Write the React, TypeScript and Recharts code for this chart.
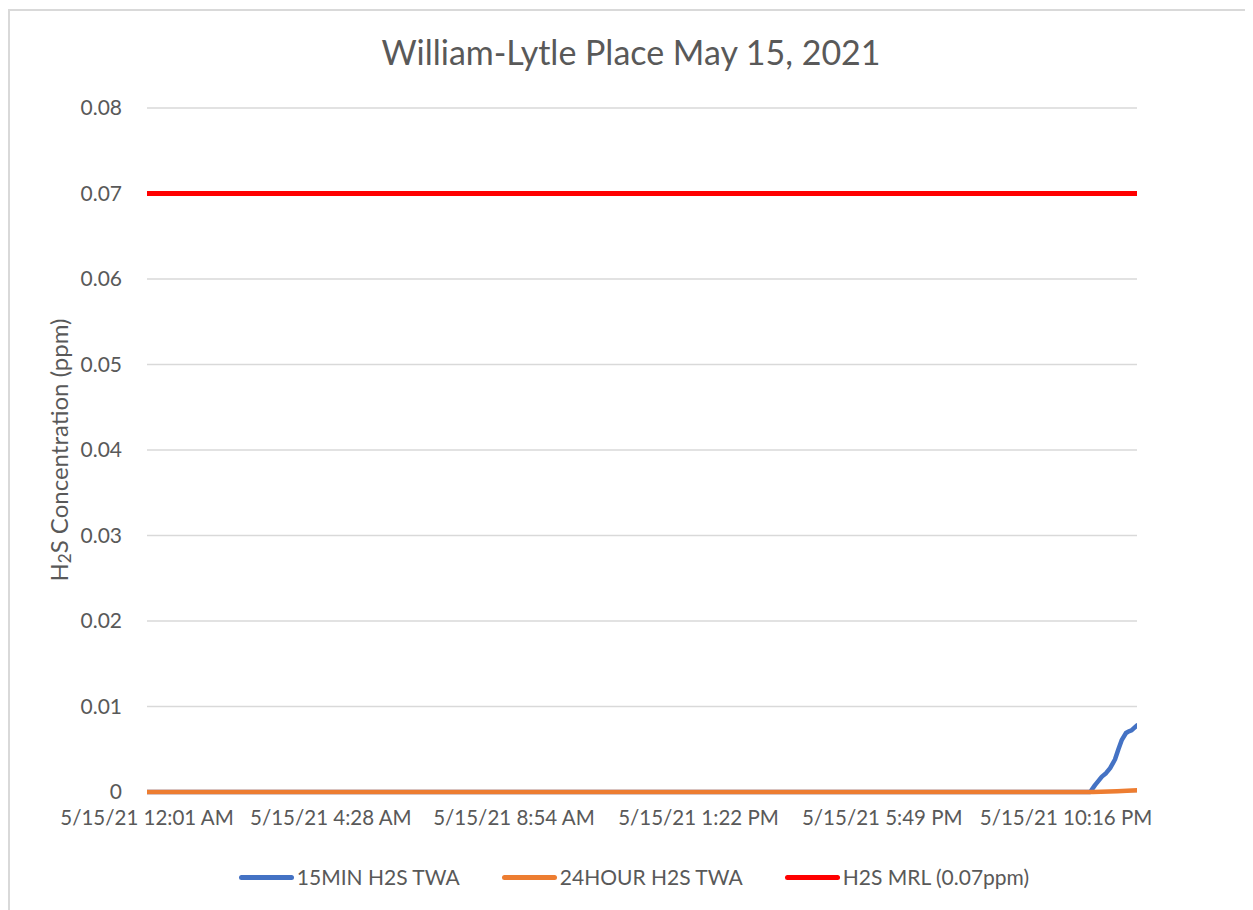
import React from "react";
import { LineChart, Line, XAxis, YAxis, CartesianGrid } from "recharts";

const chartTitle = "William-Lytle Place May 15, 2021";

// x positions are minutes after midnight on 5/15/21
const xTickMinutes = [1, 268, 534, 802, 1069, 1336];
const xTickLabels = [
  "5/15/21 12:01 AM",
  "5/15/21 4:28 AM",
  "5/15/21 8:54 AM",
  "5/15/21 1:22 PM",
  "5/15/21 5:49 PM",
  "5/15/21 10:16 PM",
];
const yTicks = [0, 0.01, 0.02, 0.03, 0.04, 0.05, 0.06, 0.07, 0.08];

const min15Times = [1, 1371, 1378, 1388, 1394, 1400, 1407, 1412, 1417, 1423, 1427, 1431, 1435, 1439];
const min15Values = [0, 0, 0.0008, 0.0018, 0.0022, 0.0028, 0.0038, 0.005, 0.0061, 0.0069, 0.0071, 0.0072, 0.0075, 0.0078];

const hour24Times = [1, 1375, 1410, 1439];
const hour24Values = [0, 0, 0.0001, 0.0002];

const mrlTimes = [1, 1439];
const mrlValues = [0.07, 0.07];

const seriesNames = ["15MIN H2S TWA", "24HOUR H2S TWA", "H2S MRL (0.07ppm)"];
const seriesColors = ["#4472C4", "#ED7D31", "#FF0000"];

const toPoints = (ts: number[], vs: number[]) => ts.map((t, i) => ({ t, v: vs[i] }));
const min15Data = toPoints(min15Times, min15Values);
const hour24Data = toPoints(hour24Times, hour24Values);
const mrlData = toPoints(mrlTimes, mrlValues);

const FONT = "Lato, 'Open Sans', sans-serif";
const TEXT = "#595959";

const YLabel = (props: any) => {
  const vb = props.viewBox || {};
  const cy = (vb.y ?? 108) + (vb.height ?? 684) / 2;
  const cx = 58;
  return (
    <text
      x={cx}
      y={cy}
      transform={`rotate(-90, ${cx}, ${cy})`}
      textAnchor="middle"
      dominantBaseline="central"
      fill={TEXT}
      fontSize={24}
      fontFamily={FONT}
    >
      <tspan>H</tspan>
      <tspan fontSize={17} dy={6}>2</tspan>
      <tspan dy={-6}>S Concentration (ppm)</tspan>
    </text>
  );
};

export default function App() {
  return (
    <div style={{ position: "relative", width: 1253, height: 910, margin: "-8px 0 0 -8px", background: "#fff", overflow: "hidden", fontFamily: FONT }}>
      <div style={{ position: "absolute", left: 7, top: 9, width: 1246, height: 2, background: "#d9d9d9" }} />
      <div style={{ position: "absolute", left: 7, top: 9, width: 3, height: 901, background: "#d9d9d9" }} />
      <div style={{ position: "absolute", left: 0, top: 31, width: 1262, textAlign: "center", fontSize: 34, lineHeight: "42px", color: TEXT }}>
        {chartTitle}
      </div>
      <div style={{ position: "absolute", left: 0, top: 0 }}>
        <LineChart width={1253} height={910} margin={{ top: 108, right: 116, bottom: 88, left: 0 }}>
          <CartesianGrid vertical={false} stroke="#d9d9d9" strokeWidth={1.5} />
          <XAxis
            type="number"
            dataKey="t"
            domain={[1, 1439]}
            ticks={xTickMinutes}
            tickFormatter={(v: number) => xTickLabels[xTickMinutes.indexOf(v)] ?? ""}
            interval={0}
            axisLine={false}
            tickLine={false}
            tickSize={0}
            tickMargin={18}
            height={30}
            tick={{ fill: TEXT, fontSize: 20.5, fontFamily: FONT }}
            allowDataOverflow
          />
          <YAxis
            type="number"
            domain={[0, 0.08]}
            ticks={yTicks}
            interval={0}
            width={147}
            axisLine={false}
            tickLine={false}
            tickSize={0}
            tickMargin={25}
            tick={{ fill: TEXT, fontSize: 21, fontFamily: FONT }}
            label={<YLabel />}
          />
          <Line data={min15Data} dataKey="v" type="linear" stroke={seriesColors[0]} strokeWidth={4.5} dot={false} isAnimationActive={false} strokeLinecap="round" strokeLinejoin="round" />
          <Line data={hour24Data} dataKey="v" type="linear" stroke={seriesColors[1]} strokeWidth={4.5} dot={false} isAnimationActive={false} strokeLinecap="round" strokeLinejoin="round" />
          <Line data={mrlData} dataKey="v" type="linear" stroke={seriesColors[2]} strokeWidth={5} dot={false} isAnimationActive={false} strokeLinecap="round" strokeLinejoin="round" />
        </LineChart>
      </div>
      <div style={{ position: "absolute", left: 0, top: 864, width: 1268, display: "flex", justifyContent: "center", gap: 42, fontSize: 21, color: TEXT, lineHeight: "26px" }}>
        {seriesNames.map((n, i) => (
          <div key={n} style={{ display: "flex", alignItems: "center" }}>
            <div style={{ width: 55, height: 5, borderRadius: 3, background: seriesColors[i], marginRight: 3 }} />
            <span>{n}</span>
          </div>
        ))}
      </div>
    </div>
  );
}
